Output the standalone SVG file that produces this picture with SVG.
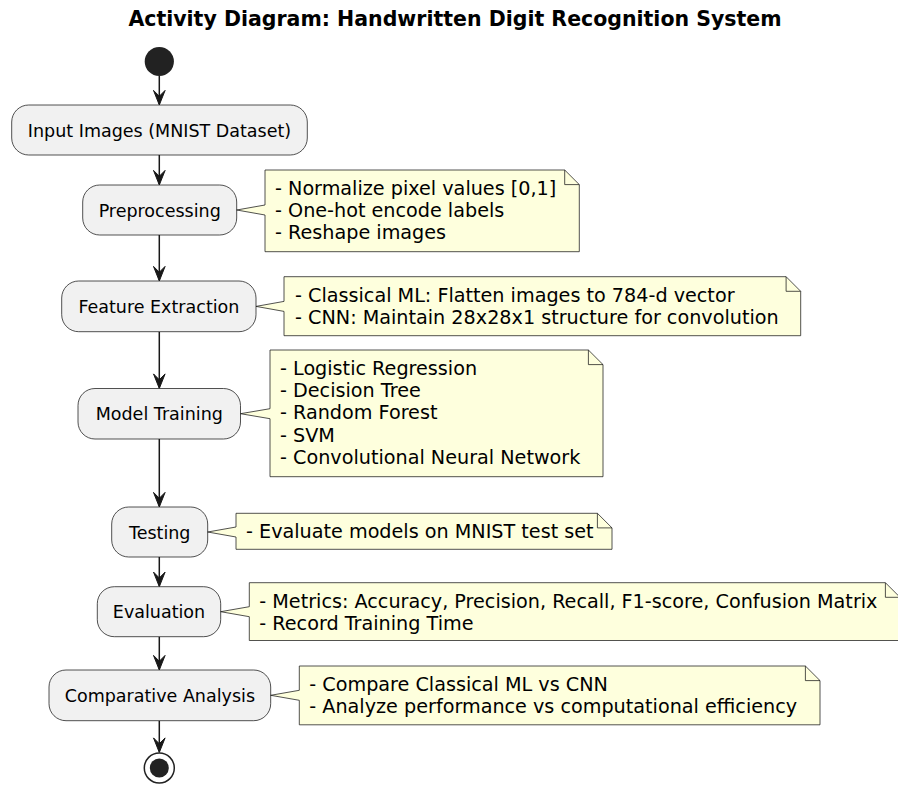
<svg xmlns="http://www.w3.org/2000/svg" width="898" height="787" viewBox="0 0 898 787">
  <style>
    .title { font-family: "DejaVu Sans", "Liberation Sans", sans-serif; font-size: 20.5px; font-weight: bold; fill: #000; }
    .act rect { fill: #F1F1F1; stroke: #181818; stroke-width: 0.75; }
    .act text { font-family: "DejaVu Sans", "Liberation Sans", sans-serif; font-size: 17.5px; fill: #000; text-anchor: middle; }
    .note path { fill: #FEFFDD; stroke: #181818; stroke-width: 0.75; }
    .note .fold { fill: none; }
    .note text { font-family: "DejaVu Sans", "Liberation Sans", sans-serif; font-size: 19.2px; fill: #000; }
    .flow line { stroke: #181818; stroke-width: 1.5; }
    .flow polygon { fill: #181818; stroke: #181818; stroke-width: 1; }
  </style>

  <text class="title" x="455" y="26" text-anchor="middle">Activity Diagram: Handwritten Digit Recognition System</text>

  <!-- connectors -->
  <g id="connectors" class="flow">
    <line x1="159.3" y1="76" x2="159.3" y2="104"/>
    <polygon points="153.5,90.4 159.3,105 165.1,90.4 159.3,96.2"/>
    <line x1="159.3" y1="155" x2="159.3" y2="184"/>
    <polygon points="153.5,170.4 159.3,185 165.1,170.4 159.3,176.2"/>
    <line x1="159.3" y1="235" x2="159.3" y2="280"/>
    <polygon points="153.5,266.4 159.3,281 165.1,266.4 159.3,272.2"/>
    <line x1="159.3" y1="331.7" x2="159.3" y2="387.5"/>
    <polygon points="153.5,373.9 159.3,388.5 165.1,373.9 159.3,379.7"/>
    <line x1="159.3" y1="439" x2="159.3" y2="506"/>
    <polygon points="153.5,492.4 159.3,507 165.1,492.4 159.3,498.2"/>
    <line x1="159.3" y1="557" x2="159.3" y2="585.7"/>
    <polygon points="153.5,572.1 159.3,586.7 165.1,572.1 159.3,577.9"/>
    <line x1="159.3" y1="636.7" x2="159.3" y2="669"/>
    <polygon points="153.5,655.4 159.3,670 165.1,655.4 159.3,661.2"/>
    <line x1="159.3" y1="720.7" x2="159.3" y2="751.5"/>
    <polygon points="153.5,737.9 159.3,752.5 165.1,737.9 159.3,743.7"/>
  </g>

  <!-- start / end -->
  <g id="start">
    <circle cx="159.3" cy="61.5" r="14.6" fill="#222222"/>
  </g>
  <g id="end">
    <circle cx="159.3" cy="768" r="15" fill="none" stroke="#222222" stroke-width="1.5"/>
    <circle cx="159.3" cy="768" r="9.5" fill="#222222"/>
  </g>

  <!-- activities -->
  <g id="input-images" class="act">
    <rect x="11.7" y="105" width="295.6" height="50" rx="17" ry="17"/>
    <text x="159.5" y="136.5">Input Images (MNIST Dataset)</text>
  </g>
  <g id="preprocessing" class="act">
    <rect x="82.7" y="185" width="154" height="50" rx="17" ry="17"/>
    <text x="159.7" y="216.5">Preprocessing</text>
  </g>
  <g id="feature-extraction" class="act">
    <rect x="61.7" y="281" width="194.3" height="50.7" rx="17" ry="17"/>
    <text x="158.9" y="313">Feature Extraction</text>
  </g>
  <g id="model-training" class="act">
    <rect x="78" y="388.5" width="162.5" height="50.5" rx="17" ry="17"/>
    <text x="159.3" y="420.3">Model Training</text>
  </g>
  <g id="testing" class="act">
    <rect x="111.7" y="507" width="96" height="50" rx="17" ry="17"/>
    <text x="159.7" y="538.5">Testing</text>
  </g>
  <g id="evaluation" class="act">
    <rect x="97.3" y="586.7" width="123.4" height="50" rx="17" ry="17"/>
    <text x="159" y="618.2">Evaluation</text>
  </g>
  <g id="comparative-analysis" class="act">
    <rect x="49" y="670" width="221.7" height="50.7" rx="17" ry="17"/>
    <text x="159.9" y="701.8">Comparative Analysis</text>
  </g>

  <!-- notes -->
  <g id="note-preprocessing" class="note">
    <path d="M265,170 L265,205 L236.7,210 L265,215 L265,251.7 L579.3,251.7 L579.3,184.6 L564.7,170 Z"/>
    <path class="fold" d="M564.7,170 L564.7,184.6 L579.3,184.6"/>
    <text x="275" y="195">- Normalize pixel values [0,1]</text>
    <text x="275" y="217.2">- One-hot encode labels</text>
    <text x="275" y="239.4">- Reshape images</text>
  </g>
  <g id="note-feature-extraction" class="note">
    <path d="M284,276.7 L284,301.4 L256,306.4 L284,311.4 L284,335.7 L800.7,335.7 L800.7,291.3 L786.1,276.7 Z"/>
    <path class="fold" d="M786.1,276.7 L786.1,291.3 L800.7,291.3"/>
    <text x="295" y="301.7">- Classical ML: Flatten images to 784-d vector</text>
    <text x="295" y="323.9">- CNN: Maintain 28x28x1 structure for convolution</text>
  </g>
  <g id="note-model-training" class="note">
    <path d="M270,350 L270,408.7 L240.5,413.7 L270,418.7 L270,476.7 L603,476.7 L603,364.6 L588.4,350 Z"/>
    <path class="fold" d="M588.4,350 L588.4,364.6 L603,364.6"/>
    <text x="280" y="375">- Logistic Regression</text>
    <text x="280" y="397.2">- Decision Tree</text>
    <text x="280" y="419.4">- Random Forest</text>
    <text x="280" y="441.6">- SVM</text>
    <text x="280" y="463.8">- Convolutional Neural Network</text>
  </g>
  <g id="note-testing" class="note">
    <path d="M236,513.3 L236,527 L207.7,532 L236,537 L236,549.3 L612,549.3 L612,527.9 L597.4,513.3 Z"/>
    <path class="fold" d="M597.4,513.3 L597.4,527.9 L612,527.9"/>
    <text x="246" y="538.2">- Evaluate models on MNIST test set</text>
  </g>
  <g id="note-evaluation" class="note">
    <path d="M249.3,582.7 L249.3,606.7 L220.7,611.7 L249.3,616.7 L249.3,640.5 L900,640.5 L900,597.3 L885.4,582.7 Z"/>
    <path class="fold" d="M885.4,582.7 L885.4,597.3 L900,597.3"/>
    <text x="259.3" y="607.6">- Metrics: Accuracy, Precision, Recall, F1-score, Confusion Matrix</text>
    <text x="259.3" y="629.8">- Record Training Time</text>
  </g>
  <g id="note-comparative-analysis" class="note">
    <path d="M299.3,666 L299.3,690.3 L270.7,695.3 L299.3,700.3 L299.3,724.8 L820,724.8 L820,680.6 L805.4,666 Z"/>
    <path class="fold" d="M805.4,666 L805.4,680.6 L820,680.6"/>
    <text x="309.3" y="691">- Compare Classical ML vs CNN</text>
    <text x="309.3" y="713.2">- Analyze performance vs computational efficiency</text>
  </g>
</svg>
